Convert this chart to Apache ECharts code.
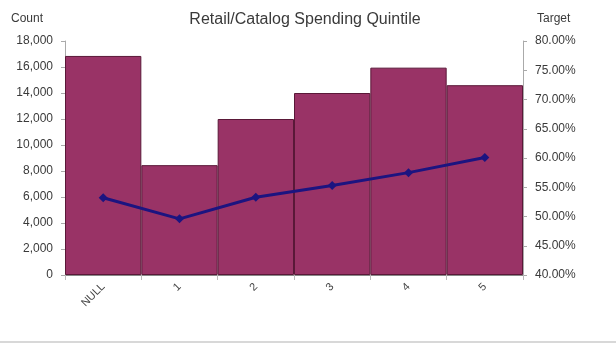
<!DOCTYPE html>
<html>
<head>
<meta charset="utf-8">
<script src="https://cdn.jsdelivr.net/npm/echarts@6/dist/echarts.min.js"></script>
<style>
  html, body { margin: 0; padding: 0; background: #fff; }
  #chart { width: 616px; height: 347px; }
</style>
</head>
<body>
<div id="chart"></div>
<script>
// Spending quintile categories
const categories = ['NULL', '1', '2', '3', '4', '5'];
// Customer count per quintile (left axis)
const counts = [16850, 8450, 12000, 14000, 15950, 14600];
// Target rate per quintile, percent (right axis)
const targetPct = [53.2, 49.6, 53.3, 55.3, 57.5, 60.1];
// Axis tick settings
const countMax = 18000, countStep = 2000;
const pctMin = 40, pctMax = 80, pctStep = 5;

const font = 'Liberation Sans, Arial, sans-serif';
const chart = echarts.init(document.getElementById('chart'), null, { renderer: 'canvas' });

chart.setOption({
  animation: false,
  backgroundColor: '#ffffff',
  title: {
    text: 'Retail/Catalog Spending Quintile',
    left: 300, top: 7, textAlign: 'center',
    textStyle: { fontFamily: font, fontSize: 16, fontWeight: 'normal', color: '#3a3a3a' }
  },
  grid: { left: 65, right: 93, top: 41, bottom: 72 },
  xAxis: {
    type: 'category',
    data: categories,
    axisLine: { show: true, lineStyle: { color: '#888', width: 1 } },
    axisTick: { show: true, lineStyle: { color: '#bbb' } },
    axisLabel: { rotate: 45, fontFamily: font, fontSize: 11, color: '#444', margin: 10 }
  },
  yAxis: [
    {
      type: 'value', min: 0, max: countMax, interval: countStep,
      name: 'Count', nameLocation: 'end', nameGap: 16,
      nameTextStyle: { fontFamily: font, fontSize: 12, color: '#3a3a3a', align: 'right', padding: [0, 22, 0, 0] },
      axisLine: { show: true, lineStyle: { color: '#aaa' } },
      axisTick: { show: true, length: 4, lineStyle: { color: '#aaa' } },
      splitLine: { show: false },
      axisLabel: {
        fontFamily: font, fontSize: 12, color: '#3a3a3a', margin: 12,
        formatter: v => v.toLocaleString('en-US')
      }
    },
    {
      type: 'value', min: pctMin, max: pctMax, interval: pctStep,
      name: 'Target', nameLocation: 'end', nameGap: 16,
      nameTextStyle: { fontFamily: font, fontSize: 12, color: '#3a3a3a', align: 'left', padding: [0, 0, 0, 14] },
      axisLine: { show: true, lineStyle: { color: '#aaa' } },
      axisTick: { show: true, length: 4, lineStyle: { color: '#aaa' } },
      splitLine: { show: false },
      axisLabel: {
        fontFamily: font, fontSize: 12, color: '#3a3a3a', margin: 12,
        formatter: v => v.toFixed(2) + '%'
      }
    }
  ],
  series: [
    {
      type: 'bar',
      data: counts,
      yAxisIndex: 0,
      barCategoryGap: '0%',
      itemStyle: { color: '#993366', borderColor: '#5a1838', borderWidth: 1 }
    },
    {
      type: 'line',
      data: targetPct,
      yAxisIndex: 1,
      symbol: 'diamond',
      symbolSize: 9,
      lineStyle: { color: '#1c1480', width: 3 },
      itemStyle: { color: '#1c1480' },
      z: 5
    }
  ],
  graphic: [
    {
      type: 'line',
      shape: { x1: 0, y1: 342, x2: 616, y2: 342 },
      style: { stroke: '#d8d8d8', lineWidth: 2 }
    }
  ]
});
</script>
</body>
</html>
